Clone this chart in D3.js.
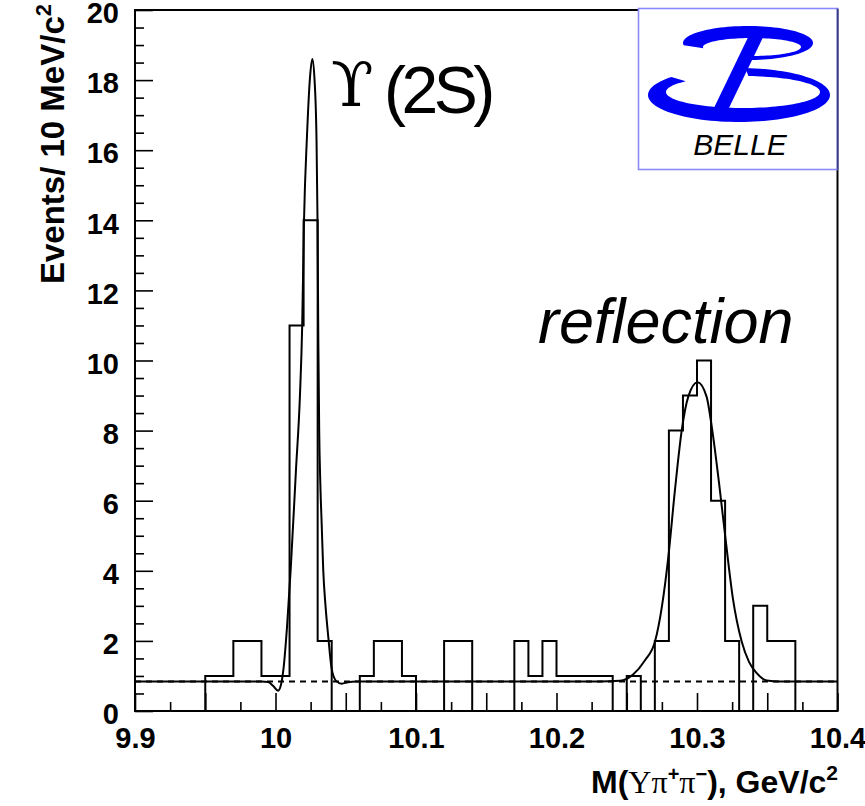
<!DOCTYPE html>
<html>
<head>
<meta charset="utf-8">
<script src="https://cdn.jsdelivr.net/npm/d3@7"></script>
<style>
  html, body { margin: 0; padding: 0; background: #fff; }
  svg { display: block; }
</style>
</head>
<body>
<svg id="chart" width="865" height="806"></svg>
<script>
// ---- data ----
const xDomain = [9.9, 10.4];
const yDomain = [0, 20];

// histogram: 10 MeV bins starting at 9.90 GeV
const binStart = 9.90;
const binWidth = 0.01;
const counts = [
  0, 0, 0, 0, 0, 1, 1, 2, 2, 1,      // 9.90 - 9.99
  1, 11, 14, 2, 0, 0, 1, 2, 2, 1,    // 10.00 - 10.09
  0, 0, 2, 2, 0, 0, 0, 2, 1, 2,      // 10.10 - 10.19
  1, 1, 1, 1, 0, 1, 0, 2, 8, 9,      // 10.20 - 10.29
  10, 6, 2, 0, 3, 2, 2, 0, 0, 0      // 10.30 - 10.39
];

// flat background level of the fit
const bgLevel = 0.84;

// fitted curve (signal + reflection + background)
const fitX = [
  9.900, 9.990, 9.9947, 9.9982, 10.0018, 10.0039, 10.0056, 10.0082, 10.0108, 10.0146,
  10.0174, 10.0190, 10.0203, 10.0224, 10.0246, 10.0262, 10.0278, 10.0292, 10.0299, 10.0305,
  10.0311, 10.0319, 10.0329, 10.0340, 10.0356, 10.0376, 10.0400, 10.0431, 10.0471, 10.0516,
  10.0573, 10.2300, 10.2452, 10.2547, 10.2630, 10.2701, 10.2751, 10.2796, 10.2843, 10.2891,
  10.2938, 10.3004, 10.3068, 10.3109, 10.3157, 10.3204, 10.3256, 10.3318, 10.3370, 10.3425,
  10.3496, 10.3591, 10.4000
];
const fitY = [
  0.84, 0.84, 0.83, 0.72, 0.58, 0.75, 1.17, 2.4, 4.03, 6.9,
  9.0, 11.0, 14.0, 16.4, 18.1, 18.6, 18.0, 16.3, 14.0, 10.5,
  8.0, 6.5, 5.3, 4.0, 3.0, 2.1, 1.2, 0.86, 0.78, 0.82,
  0.84, 0.84, 0.86, 1.05, 1.45, 1.98, 3.0, 4.4, 6.3, 8.0,
  8.97, 9.38, 8.97, 8.0, 6.5, 4.88, 3.2, 1.98, 1.4, 1.08,
  0.87, 0.84, 0.84
];

// axis ticks
const xTickValues = [9.9, 10.0, 10.1, 10.2, 10.3, 10.4];
const xTickLabels = ["9.9", "10", "10.1", "10.2", "10.3", "10.4"];
const yTickValues = [0, 2, 4, 6, 8, 10, 12, 14, 16, 18, 20];
const yTickLabels = ["0", "2", "4", "6", "8", "10", "12", "14", "16", "18", "20"];

// ---- drawing ----
const svg = d3.select("#chart");
const plot = { left: 135, right: 837.5, top: 10, bottom: 711 };

const x = d3.scaleLinear().domain(xDomain).range([plot.left, plot.right]);
const y = d3.scaleLinear().domain(yDomain).range([plot.bottom, plot.top]);

svg.append("rect").attr("width", 865).attr("height", 806).attr("fill", "#fff");

svg.append("defs").append("clipPath").attr("id", "plotclip")
  .append("rect")
  .attr("x", plot.left).attr("y", plot.top)
  .attr("width", plot.right - plot.left).attr("height", plot.bottom - plot.top);

const labelFont = "'Liberation Sans', Arial, Helvetica, sans-serif";

// tick marks (drawn inward)
function styleAxis(g) {
  g.select(".domain").remove();
  g.selectAll(".tick line").attr("stroke", "#000").attr("stroke-width", 1.6);
  g.selectAll(".tick text")
    .attr("fill", "#000")
    .style("font-family", labelFont)
    .style("font-weight", "bold")
    .style("font-size", "29px");
}

const xMid = d3.range(0, 5).map(i => 9.95 + i * 0.1);
const xMinor = d3.range(0, 10).map(i => 9.925 + i * 0.05);
const yMinor = d3.range(0, 40).map(i => 0.5 + i * 0.5).filter(v => Math.abs(v / 2 - Math.round(v / 2)) > 1e-6);

svg.append("g").attr("transform", `translate(0,${plot.bottom})`)
  .call(d3.axisBottom(x).tickValues(xMinor).tickFormat("").tickSizeInner(-9).tickSizeOuter(0))
  .call(styleAxis);
svg.append("g").attr("transform", `translate(0,${plot.bottom})`)
  .call(d3.axisBottom(x).tickValues(xMid).tickFormat("").tickSizeInner(-18).tickSizeOuter(0))
  .call(styleAxis);
svg.append("g").attr("transform", `translate(0,${plot.bottom})`)
  .call(d3.axisBottom(x).tickValues(xTickValues).tickFormat((d, i) => xTickLabels[i])
    .tickSizeInner(-18).tickSizeOuter(0).tickPadding(16))
  .call(styleAxis);

svg.append("g").attr("transform", `translate(${plot.left},0)`)
  .call(d3.axisLeft(y).tickValues(yMinor).tickFormat("").tickSizeInner(-9).tickSizeOuter(0))
  .call(styleAxis);
svg.append("g").attr("transform", `translate(${plot.left},0)`)
  .call(d3.axisLeft(y).tickValues(yTickValues).tickFormat((d, i) => yTickLabels[i])
    .tickSizeInner(-18).tickSizeOuter(0).tickPadding(16))
  .call(styleAxis)
  .call(g => g.selectAll(".tick text").attr("dy", "0.44em"));

// histogram outline
const histPts = counts.map((c, i) => [binStart + i * binWidth, c]);
histPts.push([binStart + counts.length * binWidth, counts[counts.length - 1]]);
svg.append("path")
  .attr("clip-path", "url(#plotclip)")
  .attr("d", d3.line().x(d => x(d[0])).y(d => y(d[1])).curve(d3.curveStepAfter)(histPts))
  .attr("fill", "none").attr("stroke", "#000").attr("stroke-width", 2);

// background component (dashed)
svg.append("path")
  .attr("clip-path", "url(#plotclip)")
  .attr("d", d3.line().x(d => x(d)).y(() => y(bgLevel))(xDomain))
  .attr("fill", "none").attr("stroke", "#000").attr("stroke-width", 2)
  .attr("stroke-dasharray", "6,5");

// full fit
const fitPts = fitX.map((v, i) => [v, fitY[i]]);
svg.append("path")
  .attr("clip-path", "url(#plotclip)")
  .attr("d", d3.line().x(d => x(d[0])).y(d => y(d[1])).curve(d3.curveMonotoneX)(fitPts))
  .attr("fill", "none").attr("stroke", "#000").attr("stroke-width", 2);

// frame
svg.append("rect")
  .attr("x", plot.left).attr("y", plot.top)
  .attr("width", plot.right - plot.left).attr("height", plot.bottom - plot.top)
  .attr("fill", "none").attr("stroke", "#000").attr("stroke-width", 2);

// peak annotations
const ups = svg.append("g");
ups.append("text")
  .attr("x", 331).attr("y", 106)
  .style("font-family", "'DejaVu Serif', 'Liberation Serif', serif")
  .style("font-size", "62px")
  .text("\u03D2");
ups.append("text")
  .attr("x", 384).attr("y", 113)
  .style("font-family", labelFont)
  .style("font-size", "66px")
  .style("letter-spacing", "-4.5px")
  .text("(2S)");

svg.append("text")
  .attr("x", 538).attr("y", 343)
  .style("font-family", labelFont)
  .style("font-style", "italic")
  .style("font-size", "63px")
  .text("reflection");

// axis titles
const xt = svg.append("text")
  .attr("x", 838).attr("y", 793)
  .attr("text-anchor", "end")
  .style("font-family", labelFont)
  .style("font-weight", "bold")
  .style("font-size", "32px");
xt.append("tspan").text("M(");
xt.append("tspan").style("font-family", "'Liberation Serif', 'DejaVu Serif', serif").style("font-weight", "normal").text("\u03A5\u03C0");
xt.append("tspan").attr("dy", -12).style("font-size", "20px").text("+");
xt.append("tspan").attr("dy", 12).style("font-family", "'Liberation Serif', 'DejaVu Serif', serif").style("font-weight", "normal").text("\u03C0");
xt.append("tspan").attr("dy", -12).style("font-size", "20px").text("\u2212");
xt.append("tspan").attr("dy", 12).text("), GeV/c");
xt.append("tspan").attr("dy", -13).style("font-size", "21px").text("2");

const yt = svg.append("text")
  .attr("transform", "translate(64,4) rotate(-90)")
  .attr("text-anchor", "end")
  .style("font-family", labelFont)
  .style("font-weight", "bold")
  .style("font-size", "33px");
yt.append("tspan").text("Events/ 10 MeV/c");
yt.append("tspan").attr("dy", -13).style("font-size", "22px").text("2");

// experiment logo
const logo = svg.append("g");
logo.append("rect")
  .attr("x", 638.5).attr("y", 8.5).attr("width", 199).attr("height", 161)
  .attr("fill", "#fff").attr("stroke", "#8a8aff").attr("stroke-width", 1.6);
logo.append("line")
  .attr("x1", 837.5).attr("x2", 837.5).attr("y1", 8.5).attr("y2", 169.5)
  .attr("stroke", "#3a3a8a").attr("stroke-width", 1.6);

// filled band between two ellipse arcs, from angle t0 to t1 (degrees)
function crescent(o, inn, t0, t1, n) {
  const pts = [];
  for (let k = 0; k <= n; k++) {
    const t = (t0 + (t1 - t0) * k / n) * Math.PI / 180;
    pts.push([o[0] + o[2] * Math.cos(t), o[1] + o[3] * Math.sin(t)]);
  }
  for (let k = n; k >= 0; k--) {
    const t = (t0 + (t1 - t0) * k / n) * Math.PI / 180;
    pts.push([inn[0] + inn[2] * Math.cos(t), inn[1] + inn[3] * Math.sin(t)]);
  }
  return d3.line().curve(d3.curveLinearClosed)(pts);
}
const blue = "#0000f5";
logo.append("path").attr("fill", blue)
  .attr("d", crescent([748, 43, 65, 17], [752, 47, 49, 9], 172, 450, 80));
logo.append("path").attr("fill", blue)
  .attr("d", crescent([739, 95, 91, 27], [743, 92, 77, 16], 222, -86, 100));
logo.append("path").attr("fill", blue)
  .attr("d", "M753,27 L768,27 L727,112 L712,112 Z");
logo.append("text")
  .attr("x", 740).attr("y", 155)
  .attr("text-anchor", "middle")
  .style("font-family", labelFont)
  .style("font-style", "italic")
  .style("font-size", "30px")
  .text("BELLE");
</script>
</body>
</html>
